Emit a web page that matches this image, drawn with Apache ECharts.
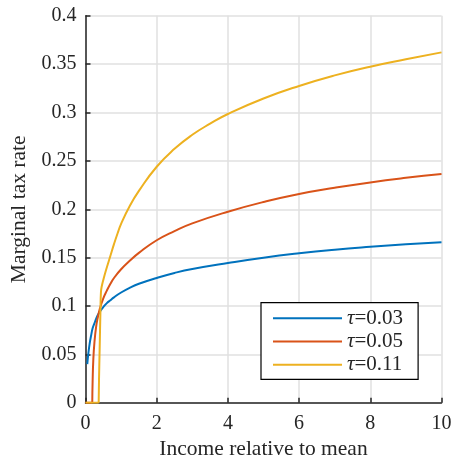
<!DOCTYPE html>
<html>
<head>
<meta charset="utf-8">
<script src="https://cdn.jsdelivr.net/npm/echarts@6/dist/echarts.min.js"></script>
<style>
html,body{margin:0;padding:0;background:#fff;}
#c{width:460px;height:461px;}
</style>
</head>
<body>
<div id="c"></div>
<script>
// Data
var seriesNames = ['τ=0.03', 'τ=0.05', 'τ=0.11'];
var xTicks = [0, 2, 4, 6, 8, 10];
var yTicks = [0, 0.05, 0.1, 0.15, 0.2, 0.25, 0.3, 0.35, 0.4];

var blueX = [0.05, 0.08, 0.12, 0.16, 0.2, 0.25, 0.3, 0.35, 0.4, 0.5, 0.6, 0.7, 0.8, 1, 1.25, 1.5, 2, 2.5, 3, 4, 5, 6, 7, 8, 9, 10];
var blueY = [0.040, 0.051, 0.062, 0.070, 0.077, 0.082, 0.087, 0.091, 0.094, 0.099, 0.103, 0.106, 0.109, 0.114, 0.119, 0.123, 0.129, 0.1342, 0.1383, 0.1445, 0.150, 0.1545, 0.1582, 0.1612, 0.1638, 0.166];

// zero section, then the rising section
var redFlatX = [0, 0.19];
var redFlatY = [0, 0];
var redX = [0.19, 0.2, 0.22, 0.25, 0.3, 0.35, 0.4, 0.5, 0.6, 0.7, 0.8, 1, 1.25, 1.5, 2, 2.5, 3, 4, 5, 6, 7, 8, 9, 10];
var redY = [0, 0.022, 0.045, 0.062, 0.079, 0.089, 0.097, 0.108, 0.116, 0.123, 0.129, 0.138, 0.147, 0.155, 0.168, 0.1775, 0.1855, 0.1975, 0.2075, 0.2158, 0.2222, 0.2278, 0.2325, 0.2365];

var yellowFlatX = [0, 0.37];
var yellowFlatY = [0, 0];
var yellowX = [0.37, 0.38, 0.40, 0.42, 0.435, 0.46, 0.5, 0.575, 0.7, 0.8, 0.9, 1, 1.25, 1.5, 2, 2.5, 3, 3.5, 4, 5, 6, 7, 8, 9, 10];
var yellowY = [0, 0.025, 0.06, 0.095, 0.115, 0.121, 0.127, 0.137, 0.152, 0.164, 0.175, 0.185, 0.204, 0.219, 0.244, 0.2625, 0.277, 0.2885, 0.2985, 0.3145, 0.3275, 0.3384, 0.3474, 0.355, 0.3622];

function pairs(xs, ys) { return xs.map(function (x, i) { return [x, ys[i]]; }); }

var colors = ['#0072BD', '#D95319', '#EDB120'];
var font = '"Liberation Serif", "DejaVu Serif", serif';
var txt = '#262626';

function line(name, color, data, z, smooth) {
  return {name: name, type: 'line', data: data, symbol: 'none', showSymbol: false,
    smooth: smooth, lineStyle: {color: color, width: 2}, itemStyle: {color: color}, z: z};
}

var chart = echarts.init(document.getElementById('c'), null, {renderer: 'canvas'});
chart.setOption({
  animation: false,
  backgroundColor: '#fff',
  grid: {left: 85.5, right: 18.5, top: 15.8, bottom: 58.2, containLabel: false, outerBoundsMode: 'none'},
  xAxis: {
    type: 'value', min: xTicks[0], max: xTicks[xTicks.length - 1], interval: 2,
    name: 'Income relative to mean', nameLocation: 'middle', nameGap: 36,
    nameTextStyle: {fontFamily: font, fontSize: 21.5, color: txt},
    axisLine: {show: true, onZero: false, lineStyle: {color: txt, width: 1.5}},
    axisTick: {show: true, inside: true, length: 5, lineStyle: {color: txt, width: 1.5}},
    axisLabel: {fontFamily: font, fontSize: 20, color: txt, margin: 11},
    splitLine: {show: true, lineStyle: {color: '#e0e0e0', width: 1.5}}
  },
  yAxis: {
    type: 'value', min: yTicks[0], max: yTicks[yTicks.length - 1], interval: 0.05,
    name: 'Marginal tax rate', nameLocation: 'middle', nameGap: 53, nameRotate: 90,
    nameTextStyle: {fontFamily: font, fontSize: 21.5, color: txt},
    axisLine: {show: true, onZero: false, lineStyle: {color: txt, width: 1.5}},
    axisTick: {show: true, inside: true, length: 5, lineStyle: {color: txt, width: 1.5}},
    axisLabel: {fontFamily: font, fontSize: 20, color: txt, margin: 9, padding: [3, 0, 0, 0]},
    splitLine: {show: true, lineStyle: {color: '#e0e0e0', width: 1.5}}
  },
  legend: {
    orient: 'vertical', left: 261, top: 302.7,
    padding: [4, 15, 3, 12],
    icon: 'rect',
    itemWidth: 69, itemHeight: 2, itemGap: 0.3,
    backgroundColor: '#fff', borderColor: '#000', borderWidth: 1.2,
    data: seriesNames,
    formatter: function (n) { return '{i|τ}' + n.slice(1); },
    textStyle: {
      fontFamily: font, fontSize: 21, color: txt, lineHeight: 23,
      rich: {i: {fontFamily: font, fontSize: 21, fontStyle: 'italic', color: txt, lineHeight: 23}}
    }
  },
  series: [
    line(seriesNames[0], colors[0], pairs(blueX, blueY), 3, 0.5),
    line(seriesNames[1], colors[1], pairs(redX, redY), 4, 0.5),
    line(seriesNames[1], colors[1], pairs(redFlatX, redFlatY), 4, false),
    line(seriesNames[2], colors[2], pairs(yellowX, yellowY), 5, 0.5),
    line(seriesNames[2], colors[2], pairs(yellowFlatX, yellowFlatY), 5, false)
  ]
});
</script>
</body>
</html>
